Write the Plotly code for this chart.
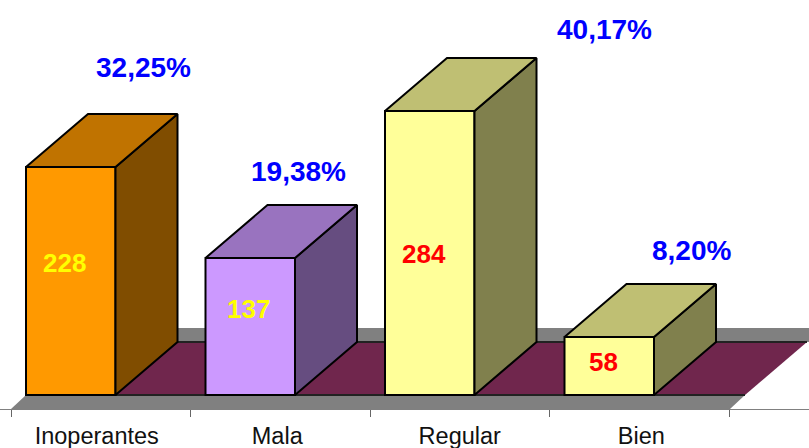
import plotly.graph_objects as go

categories = ["Inoperantes", "Mala", "Regular", "Bien"]
values = [228, 137, 284, 58]
percents = ["32,25%", "19,38%", "40,17%", "8,20%"]

front_colors = ["#FF9900", "#CC99FF", "#FFFF99", "#FFFF99"]
top_colors = ["#C07300", "#9973BF", "#BFBF73", "#BFBF73"]
side_colors = ["#804D00", "#664D80", "#80804D", "#80804D"]
value_colors = ["#FFFF00", "#FFFF00", "#FF0000", "#FF0000"]

# axis units: one category = 179.5 px, one count = 1 px
px = 179.5
bar_w = 89.5 / px
bar_start = 15 / px
depth_x = 62 / px
depth_y = 53
wall_h = 14
n = len(categories)

# label places
value_label_dx = [-6, -2, -6, -6]
value_label_y = [132, 86, 141, 33]
pct_label_x = [143, 298, 604, 691]
pct_label_y = [328, 224, 366, 145]
tick_label_dx = [-4, -3, 0, 2]

x_range = [-11 / px, (809 - 11) / px]
y_range = [-53, 395]

fig = go.Figure()


def poly(xs, ys, color, line_color=None, axes=("x", "y")):
    fig.add_trace(go.Scatter(
        x=xs, y=ys, mode="lines", fill="toself", fillcolor=color,
        line=dict(color=line_color or color, width=2 if line_color else 0),
        xaxis=axes[0], yaxis=axes[1], hoverinfo="skip", showlegend=False,
    ))


# floor and walls
floor_l = bar_start
floor_r = bar_start + (745 - 26) / px
poly([floor_l, floor_l - bar_start, floor_r - bar_start, floor_r, floor_l],
     [0, -wall_h, -wall_h, 0, 0], "#808080")
poly([floor_l + depth_x, floor_r + depth_x + 2 / px, floor_r + depth_x + 2 / px, floor_l + depth_x, floor_l + depth_x],
     [depth_y, depth_y, depth_y + wall_h, depth_y + wall_h, depth_y], "#808080")
poly([floor_l, floor_r, floor_r + depth_x, floor_l + depth_x, floor_l],
     [0, 0, depth_y, depth_y, 0], "#70264D")
# dark floor edges
fig.add_trace(go.Scatter(x=[floor_l, floor_r], y=[0, 0], mode="lines",
                         line=dict(color="#222222", width=2), hoverinfo="skip", showlegend=False))
fig.add_trace(go.Scatter(x=[floor_l + depth_x, floor_r + depth_x], y=[depth_y, depth_y], mode="lines",
                         line=dict(color="#222222", width=2), hoverinfo="skip", showlegend=False))

# front faces
fig.add_trace(go.Bar(
    x=[i + bar_start + bar_w / 2 for i in range(n)], y=values, width=bar_w,
    marker=dict(color=front_colors, line=dict(color="#000000", width=2)),
    xaxis="x2", yaxis="y2", hoverinfo="skip", showlegend=False,
))

# side and top faces
for i, v in enumerate(values):
    l = i + bar_start
    r = l + bar_w
    poly([r, r + depth_x, r + depth_x, r, r], [0, depth_y, v + depth_y, v, 0],
         side_colors[i], "#000000", ("x2", "y2"))
    poly([l, r, r + depth_x, l + depth_x, l], [v, v, v + depth_y, v + depth_y, v],
         top_colors[i], "#000000", ("x2", "y2"))

annotations = []
for i in range(n):
    annotations.append(dict(
        x=i + bar_start + bar_w / 2 + value_label_dx[i] / px, y=value_label_y[i],
        xref="x2", yref="y2", text="<b>%d</b>" % values[i], showarrow=False,
        font=dict(family="Liberation Sans", size=26, color=value_colors[i]),
        xanchor="center", yanchor="middle",
    ))
    annotations.append(dict(
        x=(pct_label_x[i] - 11) / px, y=pct_label_y[i],
        xref="x2", yref="y2", text="<b>%s</b>" % percents[i], showarrow=False,
        font=dict(family="Liberation Sans", size=28, color="#0000FF"),
        xanchor="center", yanchor="middle",
    ))

fig.update_layout(
    width=809,
    height=448,
    margin=dict(l=0, r=0, t=0, b=0),
    paper_bgcolor="#FFFFFF",
    plot_bgcolor="#FFFFFF",
    annotations=annotations,
    xaxis=dict(
        range=x_range, anchor="free", position=39 / 448,
        showgrid=False, zeroline=False, showline=True, linecolor="#808080", linewidth=1,
        tickvals=[i + 0.5 + tick_label_dx[i] / px for i in range(n)], ticktext=categories, ticks="",
        tickfont=dict(family="Liberation Sans", size=23.5, color="#111111"),
        ticklabelstandoff=6,
        minor=dict(tickvals=list(range(n + 1)), ticks="outside", ticklen=7, tickcolor="#666666", tickwidth=1),
    ),
    yaxis=dict(range=y_range, visible=False),
    xaxis2=dict(range=x_range, overlaying="x", visible=False),
    yaxis2=dict(range=y_range, overlaying="y", visible=False),
)

fig.write_html("out.html", config={"displayModeBar": False},
               post_script="document.body.style.margin='0';")
